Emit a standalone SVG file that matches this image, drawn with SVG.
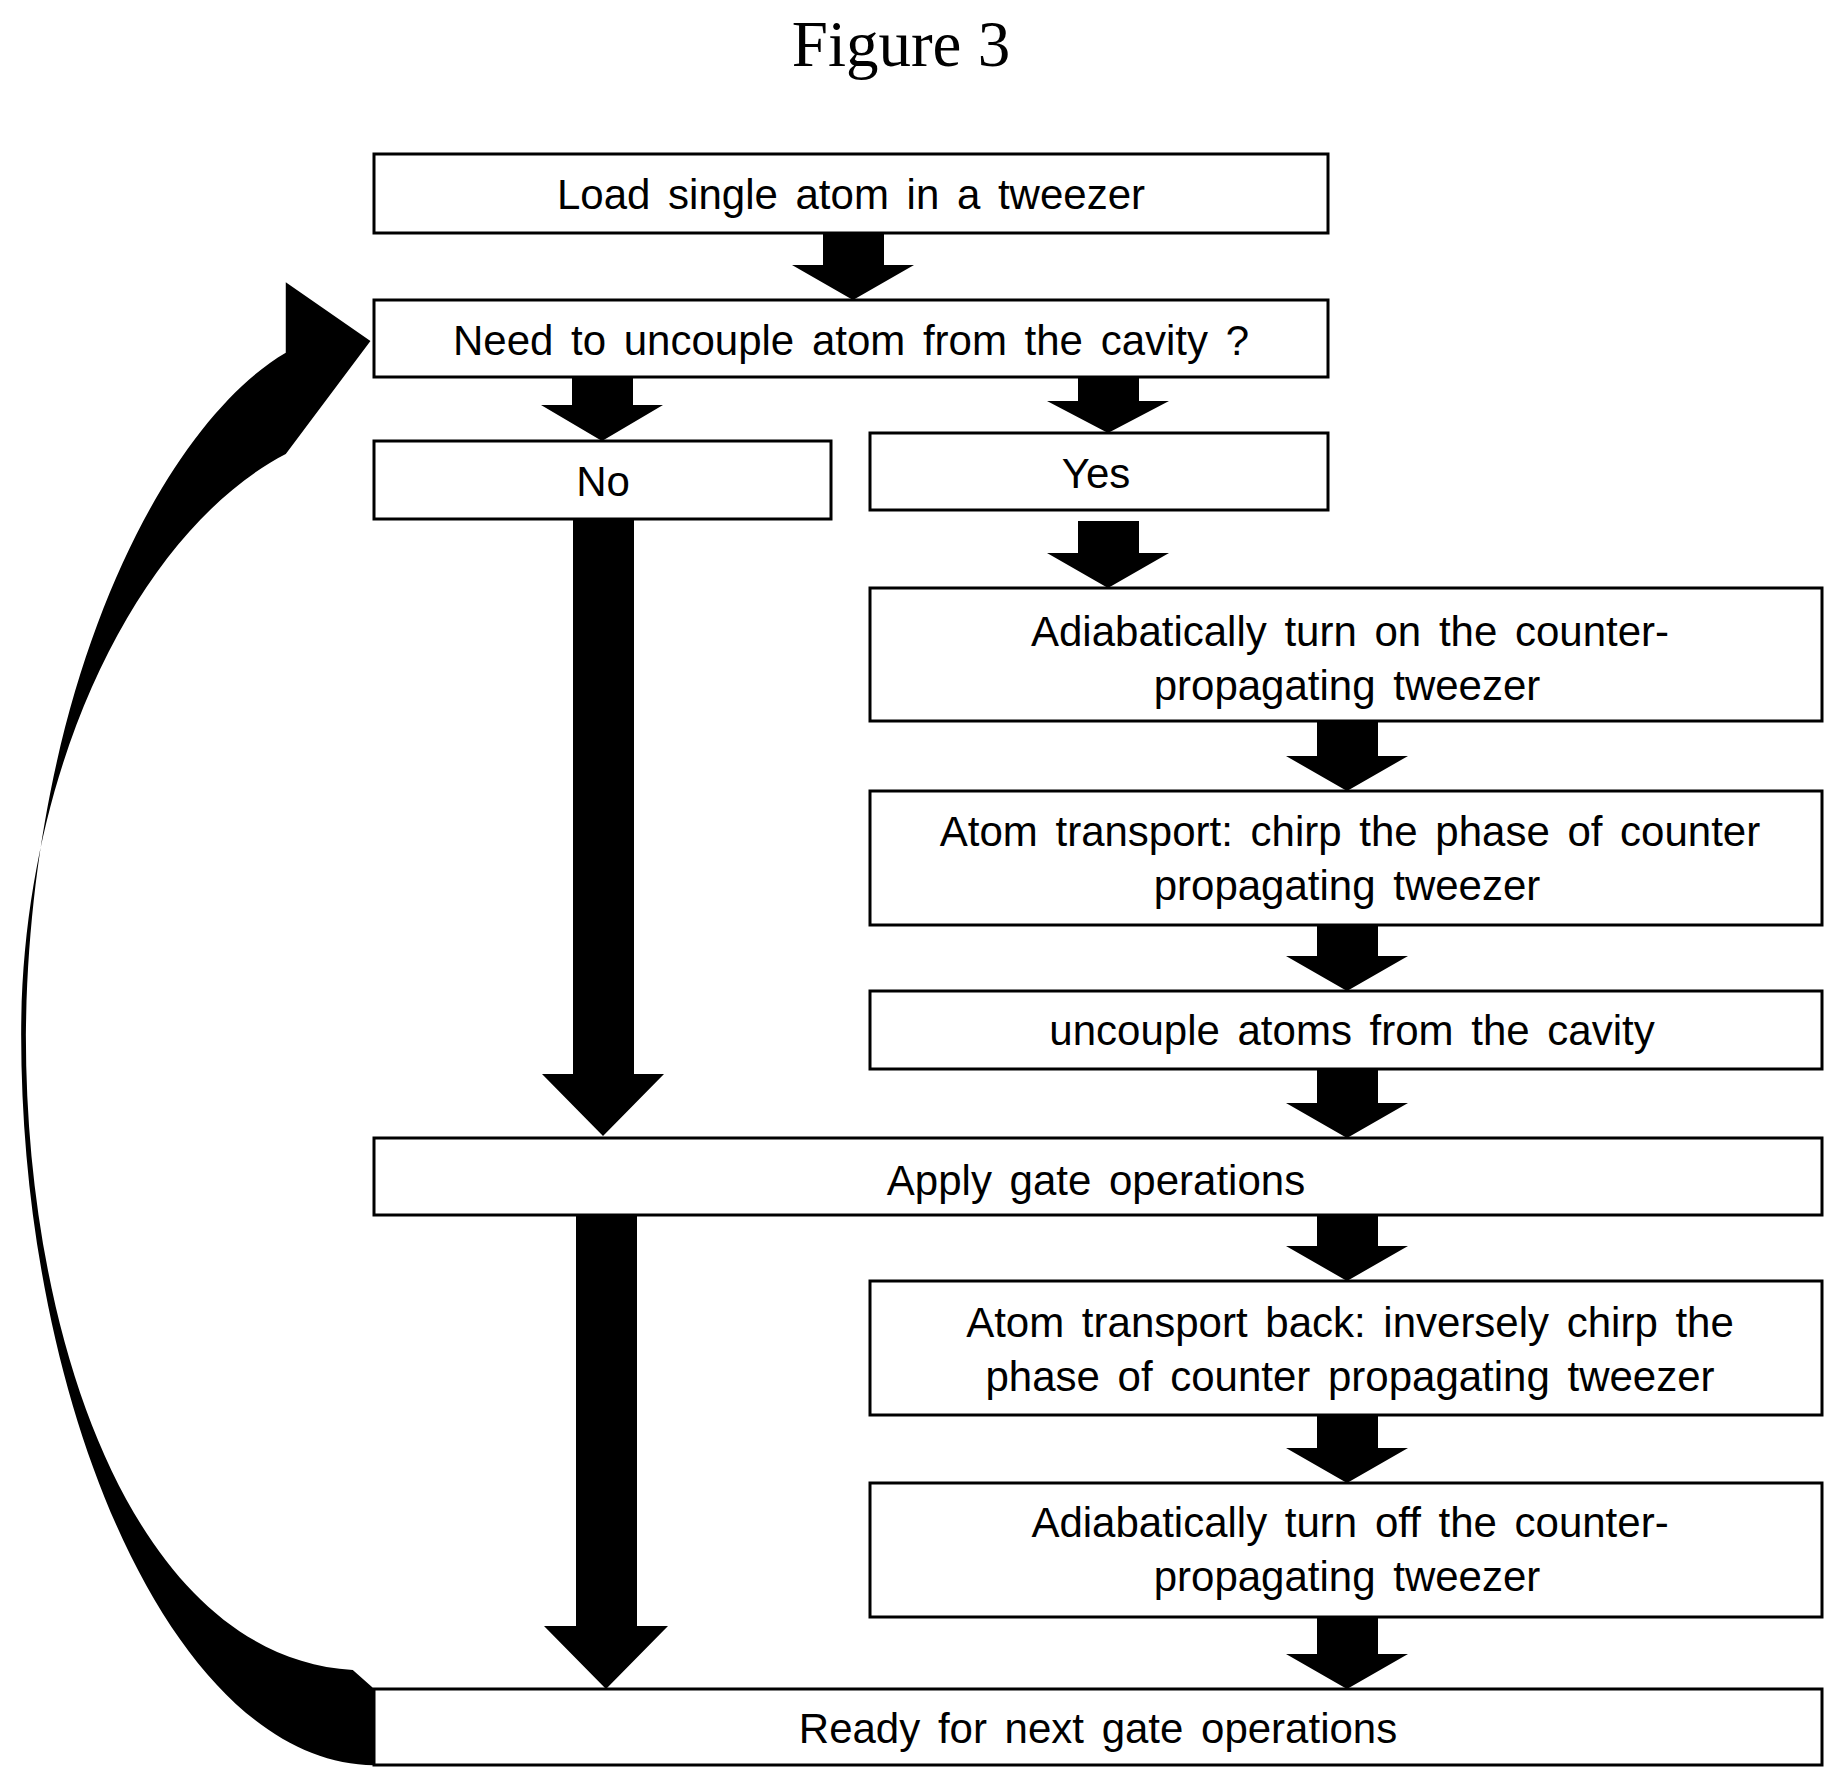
<svg xmlns="http://www.w3.org/2000/svg" width="1844" height="1790" viewBox="0 0 1844 1790">
<style>
.b{fill:#fff;stroke:#000;stroke-width:3}
.t{font-family:"Liberation Sans",Arial,sans-serif;font-size:42px;text-anchor:middle;fill:#000;word-spacing:6px}
.a{fill:#000}
</style>
<rect width="1844" height="1790" fill="#fff"/>
<text x="901" y="66" font-family="Liberation Serif,serif" font-size="65" text-anchor="middle">Figure 3</text>
<g id="connectors">
<path class="a" d="M823 233h61v32h30l-61 35l-61-35h31z"/>
<path class="a" d="M572 377h61v28h30l-61 36l-61-36h31z"/>
<path class="a" d="M1078 377h61v24h30l-61 32l-61-32h31z"/>
<path class="a" d="M1078 521h61v32h30l-61 35l-61-35h31z"/>
<path class="a" d="M1317 721h61v35h30l-61 35l-61-35h31z"/>
<path class="a" d="M1317 925h61v31h30l-61 35l-61-35h31z"/>
<path class="a" d="M1317 1069h61v34h30l-61 35l-61-35h31z"/>
<path class="a" d="M1317 1215h61v31h30l-61 35l-61-35h31z"/>
<path class="a" d="M1317 1415h61v33h30l-61 35l-61-35h31z"/>
<path class="a" d="M1317 1617h61v37h30l-61 35l-61-35h31z"/>
<path class="a" d="M573 519h61v555h30l-61 62l-61-62h31z"/>
<path class="a" d="M576 1215h61v411h31l-62 63l-62-63h32z"/>
<g transform="scale(1.176)">
<path class="a" d="M318 1501 C150 1500 18 1200 18 880 C18 650 120 450 243 386 L243 386 L315 290 L243 240 L243 300 C140 360 25 580 22 880 C22 1150 120 1410 300 1420 L318 1436 Z"/>
</g>
</g>
<g id="n1"><rect class="b" x="374" y="154" width="954" height="79"/><text class="t" x="851" y="209">Load single atom in a tweezer</text></g>
<g id="n2"><rect class="b" x="374" y="300" width="954" height="77"/><text class="t" x="851" y="355">Need to uncouple atom from the cavity ?</text></g>
<g id="n3"><rect class="b" x="374" y="441" width="457" height="78"/><text class="t" x="603" y="496">No</text></g>
<g id="n4"><rect class="b" x="870" y="433" width="458" height="77"/><text class="t" x="1096" y="488">Yes</text></g>
<g id="n5"><rect class="b" x="870" y="588" width="952" height="133"/><text class="t" x="1350" y="646">Adiabatically turn on the counter-</text><text class="t" x="1347" y="700">propagating tweezer</text></g>
<g id="n6"><rect class="b" x="870" y="791" width="952" height="134"/><text class="t" x="1350" y="846">Atom transport: chirp the phase of counter</text><text class="t" x="1347" y="900">propagating tweezer</text></g>
<g id="n7"><rect class="b" x="870" y="991" width="952" height="78"/><text class="t" x="1352" y="1045">uncouple atoms from the cavity</text></g>
<g id="n8"><rect class="b" x="374" y="1138" width="1448" height="77"/><text class="t" x="1096" y="1195">Apply gate operations</text></g>
<g id="n9"><rect class="b" x="870" y="1281" width="952" height="134"/><text class="t" x="1350" y="1337">Atom transport back: inversely chirp the</text><text class="t" x="1350" y="1391">phase of counter propagating tweezer</text></g>
<g id="n10"><rect class="b" x="870" y="1483" width="952" height="134"/><text class="t" x="1350" y="1537">Adiabatically turn off the counter-</text><text class="t" x="1347" y="1591">propagating tweezer</text></g>
<g id="n11"><rect class="b" x="374" y="1689" width="1448" height="76"/><text class="t" x="1098" y="1743">Ready for next gate operations</text></g>
</svg>
